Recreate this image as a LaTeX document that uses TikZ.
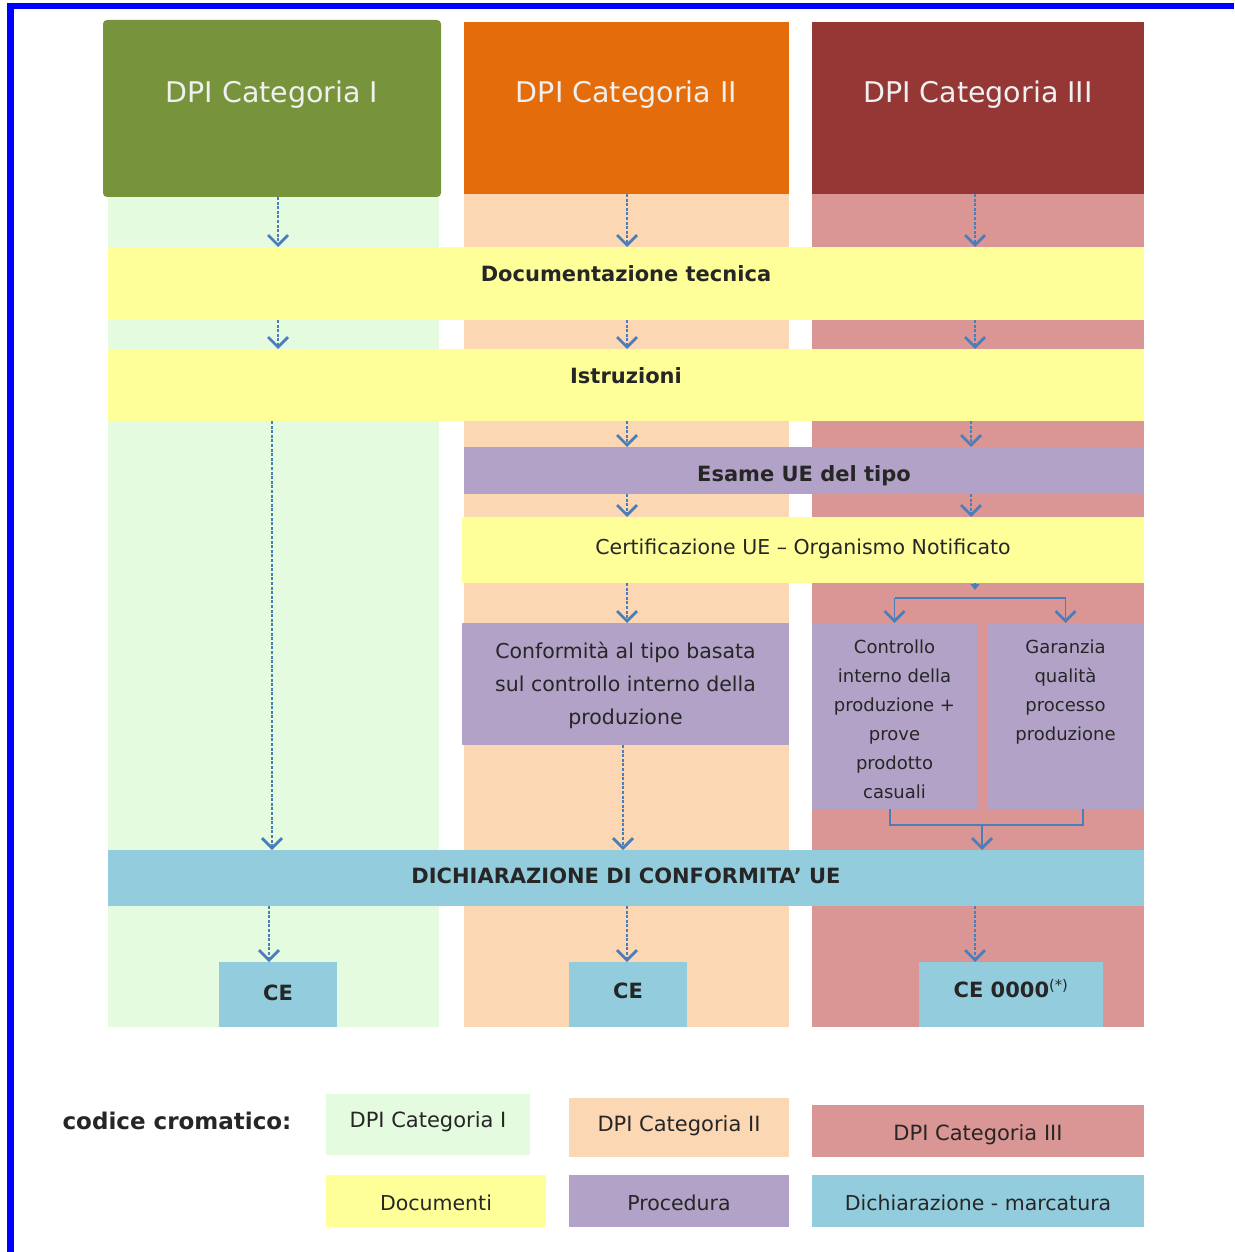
\documentclass[tikz,border=0pt]{standalone}
\usepackage{fontspec}
\setmainfont{DejaVu Sans}
\usetikzlibrary{arrows.meta,fit}
\definecolor{hgreen}{HTML}{77933C}
\definecolor{horange}{HTML}{E46C0A}
\definecolor{hred}{HTML}{953735}
\definecolor{bggreen}{HTML}{E5FBE0}
\definecolor{bgorange}{HTML}{FCD7B4}
\definecolor{bgred}{HTML}{DA9694}
\definecolor{yel}{HTML}{FFFF99}
\definecolor{purp}{HTML}{B3A2C7}
\definecolor{blu}{HTML}{93CDDD}
\definecolor{arrc}{HTML}{4A7EBB}
\definecolor{txt}{HTML}{262626}
\definecolor{frame}{HTML}{0000FF}
\begin{document}
\begin{tikzpicture}[x=1pt,y=-1pt,
  area/.style={inner sep=0pt, outer sep=0pt, draw=none},
  tx/.style={inner sep=0pt, text=txt},
  btxt/.style={tx, font=\fontsize{21}{25}\selectfont\bfseries},
  rtxt/.style={tx, font=\fontsize{20.5}{33}\selectfont, align=center},
  stxt/.style={tx, font=\fontsize{18}{29}\selectfont, align=center},
  ltxt/.style={tx, font=\fontsize{20.5}{25}\selectfont},
  l2txt/.style={tx, font=\fontsize{21}{25}\selectfont},
  htxt/.style={font=\fontsize{28.5}{34}\selectfont, text=white!94!black, inner sep=0pt},
  tip/.style={-{Straight Barb[length=10pt,width=20pt,line width=2.8pt]}},
  arr/.style={draw=arrc, line width=1.8pt, dash pattern=on 3pt off 1.6pt, tip},
  sline/.style={draw=arrc, line width=1.4pt},
  sarr/.style={sline, tip}]
\fill[white] (0,0) rectangle (1234,1252);
\useasboundingbox (0,0) rectangle (1234,1252);
% frame
\fill[frame] (7,3) rectangle (1234,9);
\fill[frame] (7,3) rectangle (14,1252);
% column backgrounds
\node[area, fit={(108,197) (439,1027)}, fill=bggreen] (bg1) {};
\node[area, fit={(464,194) (789,1027)}, fill=bgorange] (bg2) {};
\node[area, fit={(812,194) (1144,1027)}, fill=bgred] (bg3) {};
% headers
\node[area, fit={(103,20) (441,197)}, fill=hgreen, rounded corners=4pt] (h1) {};
\node[area, fit={(464,22) (789,194)}, fill=horange] (h2) {};
\node[area, fit={(812,22) (1144,194)}, fill=hred] (h3) {};
\node[htxt] (t1) at ([yshift=14]h1.center) {DPI Categoria I};
\node[htxt] (t2) at ([yshift=13]h2.center) {DPI Categoria II};
\node[htxt] (t3) at ([yshift=13]h3.center) {DPI Categoria III};
% bands and boxes
\node[area, fit={(108,247) (1144,320)}, fill=yel] (doc) {};
\node[btxt] (doct) at ([yshift=10]doc.center) {Documentazione tecnica};
\node[area, fit={(108,349) (1144,421)}, fill=yel] (istr) {};
\node[btxt] (istrt) at ([yshift=9]istr.center) {Istruzioni};
\node[area, fit={(464,447) (1144,494)}, fill=purp] (esame) {};
\node[btxt] (esamet) at ([yshift=-5]esame.center) {Esame UE del tipo};
\node[area, fit={(462,517) (1144,583)}, fill=yel] (cert) {};
\node[rtxt] (certt) at ([yshift=1]cert.center) {Certificazione UE – Organismo Notificato};
\node[area, fit={(462,623) (789,745)}, fill=purp] (conf) {};
\node[rtxt] (conft) at ([yshift=-1]conf.center) {Conformità al tipo basata\\sul controllo interno della\\produzione};
\node[area, fit={(812,623) (977,809)}, fill=purp] (c3a) {};
\node[area, fit={(987,623) (1144,809)}, fill=purp] (c3b) {};
\node[stxt, anchor=north] (c3at) at ([yshift=-17]c3a.north) {Controllo\\interno della\\produzione +\\prove\\prodotto\\casuali};
\node[stxt, anchor=north] (c3bt) at ([yshift=-17]c3b.north) {Garanzia\\qualità\\processo\\produzione};
\node[area, fit={(108,850) (1144,906)}, fill=blu] (dich) {};
\node[btxt] (dicht) at ([yshift=2]dich.center) {DICHIARAZIONE DI CONFORMITA’ UE};
\node[area, fit={(219,962) (337,1027)}, fill=blu] (ce1) {};
\node[btxt] (ce1t) at ([yshift=2]ce1.center) {CE};
\node[area, fit={(569,962) (687,1027)}, fill=blu] (ce2) {};
\node[btxt] (ce2t) at ([yshift=4]ce2.center) {CE};
\node[area, fit={(919,962) (1103,1027)}, fill=blu] (ce3) {};
\node[btxt] (ce3t) at ([yshift=6]ce3.center) {CE 0000\textsuperscript{\mdseries(*)}};
% arrow columns
\coordinate (a1) at (278,0);
\coordinate (b1) at (272,0);
\coordinate (d1) at (269,0);
\coordinate (a2) at (627,0);
\coordinate (b2) at (623,0);
\coordinate (a3) at (975,0);
\coordinate (b3) at (971,0);
\coordinate (m3) at (982,0);
\coordinate (br) at (975,598);
\coordinate (bb) at (982,825);
% column I
\draw[arr] (a1 |- h1.south) -- (a1 |- doc.north);
\draw[arr] (a1 |- doc.south) -- (a1 |- istr.north);
\draw[arr] (b1 |- istr.south) -- (b1 |- dich.north);
\draw[arr] (d1 |- dich.south) -- (d1 |- ce1.north);
% column II
\draw[arr] (a2 |- h2.south) -- (a2 |- doc.north);
\draw[arr] (a2 |- doc.south) -- (a2 |- istr.north);
\draw[arr] (a2 |- istr.south) -- (a2 |- esame.north);
\draw[arr] (a2 |- esame.south) -- (a2 |- cert.north);
\draw[arr] (a2 |- cert.south) -- (a2 |- conf.north);
\draw[arr] (b2 |- conf.south) -- (b2 |- dich.north);
\draw[arr] (a2 |- dich.south) -- (a2 |- ce2.north);
% column III
\draw[arr] (a3 |- h3.south) -- (a3 |- doc.north);
\draw[arr] (a3 |- doc.south) -- (a3 |- istr.north);
\draw[arr] (b3 |- istr.south) -- (b3 |- esame.north);
\draw[arr] (b3 |- esame.south) -- (b3 |- cert.north);
\draw[sline, -{Triangle[length=6pt,width=9pt]}] (a3 |- cert.south) -- ([yshift=-7]a3 |- cert.south);
\draw[sline] (c3a.north |- br) -- (c3b.north |- br);
\draw[sarr] (c3a.north |- br) -- (c3a.north);
\draw[sarr] (c3b.north |- br) -- (c3b.north);
\draw[sline] (890,0 |- c3a.south) -- (890,0 |- bb) -- (1083,0 |- bb) -- (1083,0 |- c3b.south);
\draw[sarr] (bb) -- (m3 |- dich.north);
\draw[arr] (a3 |- dich.south) -- (a3 |- ce3.north);
% legend
\node[tx, font=\fontsize{23}{27}\selectfont\bfseries] (leg) at (177,1121) {codice cromatico:};
\node[area, fit={(326,1094) (530,1155)}, fill=bggreen] (l1) {};
\node[l2txt] (l1t) at ([yshift=3]l1.center) {DPI Categoria I};
\node[area, fit={(569,1098) (789,1157)}, fill=bgorange] (l2) {};
\node[l2txt] (l2t) at ([yshift=2]l2.center) {DPI Categoria II};
\node[area, fit={(812,1105) (1144,1157)}, fill=bgred] (l3) {};
\node[l2txt] (l3t) at ([yshift=-4]l3.center) {DPI Categoria III};
\node[area, fit={(326,1175) (546,1227)}, fill=yel] (l4) {};
\node[ltxt] (l4t) at ([yshift=-2]l4.center) {Documenti};
\node[area, fit={(569,1175) (789,1227)}, fill=purp] (l5) {};
\node[ltxt] (l5t) at ([yshift=-2]l5.center) {Procedura};
\node[area, fit={(812,1175) (1144,1227)}, fill=blu] (l6) {};
\node[ltxt] (l6t) at ([yshift=-2]l6.center) {Dichiarazione - marcatura};
\end{tikzpicture}
\end{document}
